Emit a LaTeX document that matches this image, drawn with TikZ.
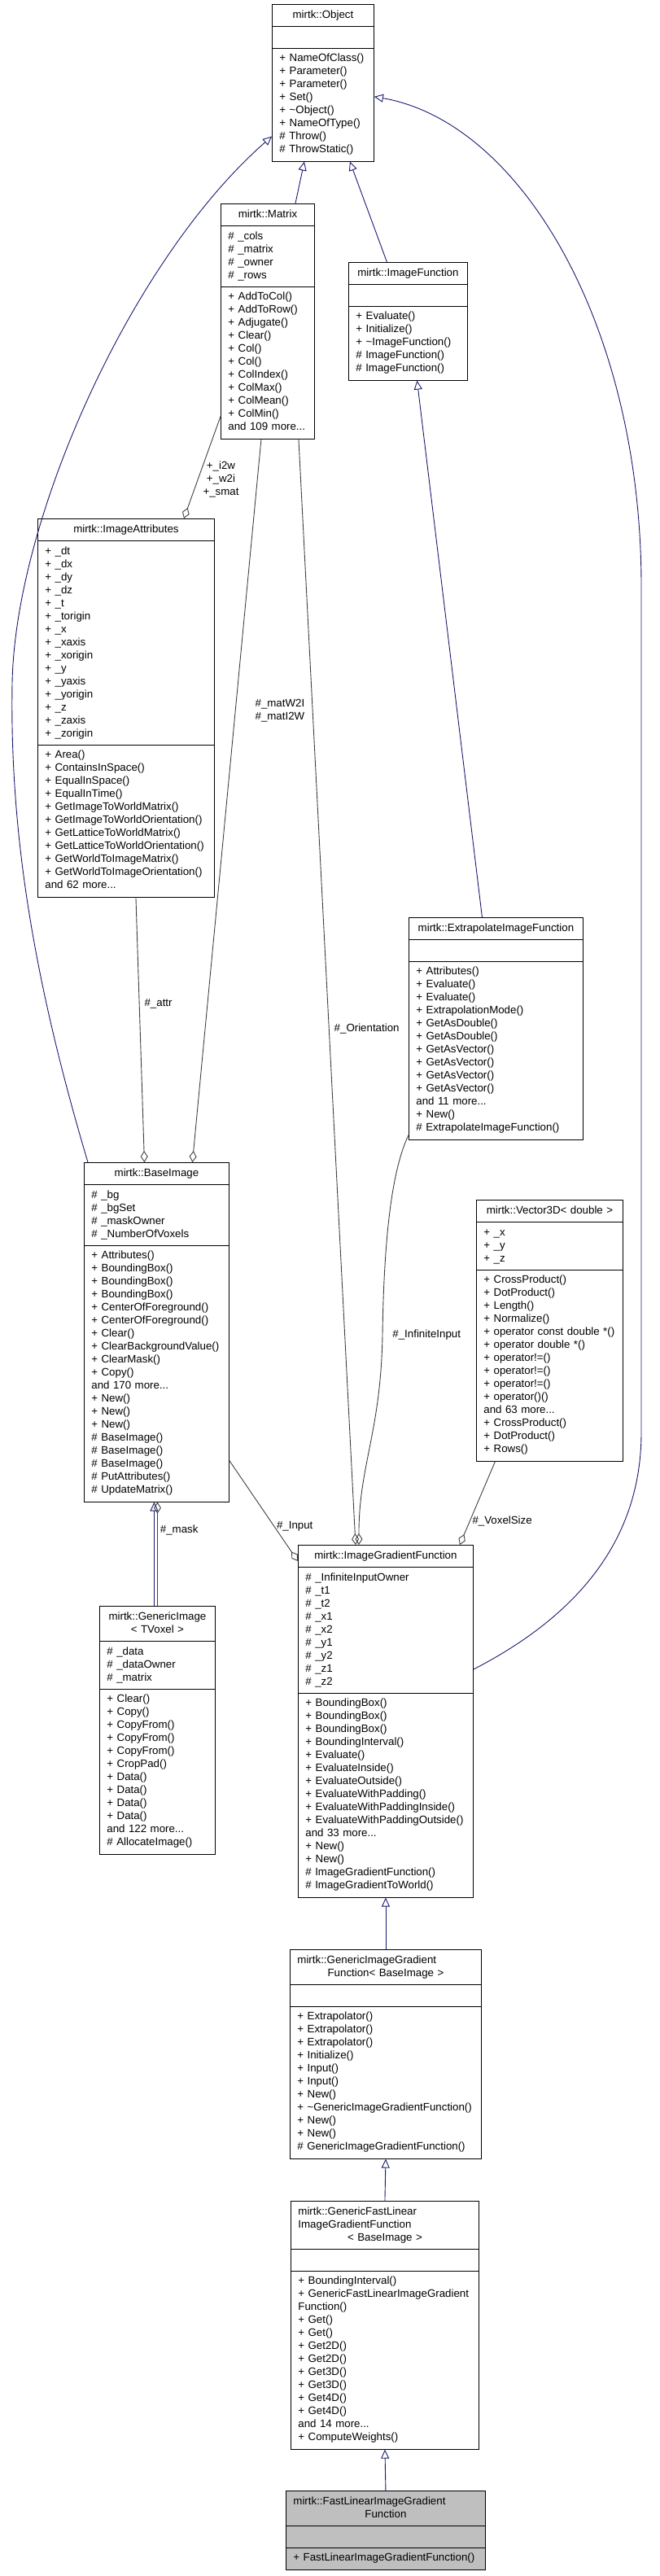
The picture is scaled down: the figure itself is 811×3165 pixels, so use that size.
\documentclass[tikz,border=0pt]{standalone}
\usepackage{fontspec}
\setmainfont{Liberation Sans}
\usetikzlibrary{shapes.multipart, arrows.meta}

\definecolor{inhblue}{HTML}{191970}
\definecolor{membgrey}{HTML}{404040}
\definecolor{focusgrey}{HTML}{BFBFBF}

% centred line in a class title
\newcommand{\classtitle}[1]{\makebox[\linewidth]{#1}}

\begin{document}
\begin{tikzpicture}[
    x=1pt, y=-1pt,
    umlclass/.style={rectangle split, rectangle split parts=3, draw, line width=0.9pt, fill=white,
      anchor=north west, inner xsep=9pt, inner ysep=5pt, text width=#1,
      font=\fontsize{13.3}{16}\selectfont, align=left,
      execute at begin node={\rightskip=0pt plus 1fil minus 40pt\strut},
      execute at end node=\strut},
    inherits/.style={-{Triangle[open, length=11pt, width=10pt]}, draw=inhblue, line width=0.9pt},
    uses/.style={-{Diamond[open, length=14pt, width=9pt]}, draw=membgrey, line width=0.9pt},
    rolename/.style={font=\fontsize{13.3}{16}\selectfont, inner sep=0pt, align=center}
  ]
    \useasboundingbox (0,0) rectangle (811,3165);

    % Top: Object, Matrix, ImageFunction
    \node[umlclass=107] (obj) at (334,5) {\classtitle{mirtk::Object}
      \nodepart{two}
      \nodepart{three}+ NameOfClass()\\
      + Parameter()\\
      + Parameter()\\
      + Set()\\
      + \textasciitilde Object()\\
      + NameOfType()\\
      \# Throw()\\
      \# ThrowStatic()
    };

    \node[umlclass=97] (matrix) at (271,250) {\classtitle{mirtk::Matrix}
      \nodepart{two}\# \_cols\\
      \# \_matrix\\
      \# \_owner\\
      \# \_rows
      \nodepart{three}+ AddToCol()\\
      + AddToRow()\\
      + Adjugate()\\
      + Clear()\\
      + Col()\\
      + Col()\\
      + ColIndex()\\
      + ColMax()\\
      + ColMean()\\
      + ColMin()\\
      and 109 more...
    };

    \node[umlclass=128] (imgfn) at (428,322) {\classtitle{mirtk::ImageFunction}
      \nodepart{two}
      \nodepart{three}+ Evaluate()\\
      + Initialize()\\
      + \textasciitilde ImageFunction()\\
      \# ImageFunction()\\
      \# ImageFunction()
    };

    % Middle: ImageAttributes, ExtrapolateImageFunction
    \node[umlclass=199] (attrs) at (46,637) {\classtitle{mirtk::ImageAttributes}
      \nodepart{two}+ \_dt\\
      + \_dx\\
      + \_dy\\
      + \_dz\\
      + \_t\\
      + \_torigin\\
      + \_x\\
      + \_xaxis\\
      + \_xorigin\\
      + \_y\\
      + \_yaxis\\
      + \_yorigin\\
      + \_z\\
      + \_zaxis\\
      + \_zorigin
      \nodepart{three}+ Area()\\
      + ContainsInSpace()\\
      + EqualInSpace()\\
      + EqualInTime()\\
      + GetImageToWorldMatrix()\\
      + GetImageToWorldOrientation()\\
      + GetLatticeToWorldMatrix()\\
      + GetLatticeToWorldOrientation()\\
      + GetWorldToImageMatrix()\\
      + GetWorldToImageOrientation()\\
      and 62 more...
    };

    \node[umlclass=196] (extrap) at (502,1127) {\classtitle{mirtk::ExtrapolateImageFunction}
      \nodepart{two}
      \nodepart{three}+ Attributes()\\
      + Evaluate()\\
      + Evaluate()\\
      + ExtrapolationMode()\\
      + GetAsDouble()\\
      + GetAsDouble()\\
      + GetAsVector()\\
      + GetAsVector()\\
      + GetAsVector()\\
      + GetAsVector()\\
      and 11 more...\\
      + New()\\
      \# ExtrapolateImageFunction()
    };

    % BaseImage, Vector3D, GenericImage
    \node[umlclass=160] (baseimg) at (103,1428) {\classtitle{mirtk::BaseImage}
      \nodepart{two}\# \_bg\\
      \# \_bgSet\\
      \# \_maskOwner\\
      \# \_NumberOfVoxels
      \nodepart{three}+ Attributes()\\
      + BoundingBox()\\
      + BoundingBox()\\
      + BoundingBox()\\
      + CenterOfForeground()\\
      + CenterOfForeground()\\
      + Clear()\\
      + ClearBackgroundValue()\\
      + ClearMask()\\
      + Copy()\\
      and 170 more...\\
      + New()\\
      + New()\\
      + New()\\
      \# BaseImage()\\
      \# BaseImage()\\
      \# BaseImage()\\
      \# PutAttributes()\\
      \# UpdateMatrix()
    };

    \node[umlclass=162] (vec3d) at (585,1474) {\classtitle{mirtk::Vector3D< double >}
      \nodepart{two}+ \_x\\
      + \_y\\
      + \_z
      \nodepart{three}+ CrossProduct()\\
      + DotProduct()\\
      + Length()\\
      + Normalize()\\
      + operator const double *()\\
      + operator double *()\\
      + operator!=()\\
      + operator!=()\\
      + operator!=()\\
      + operator()()\\
      and 63 more...\\
      + CrossProduct()\\
      + DotProduct()\\
      + Rows()
    };

    \node[umlclass=124] (genimg) at (122,1973) {\classtitle{mirtk::GenericImage}\\
      \classtitle{< TVoxel >}
      \nodepart{two}\# \_data\\
      \# \_dataOwner\\
      \# \_matrix
      \nodepart{three}+ Clear()\\
      + Copy()\\
      + CopyFrom()\\
      + CopyFrom()\\
      + CopyFrom()\\
      + CropPad()\\
      + Data()\\
      + Data()\\
      + Data()\\
      + Data()\\
      and 122 more...\\
      \# AllocateImage()
    };

    % Gradient function chain
    \node[umlclass=197] (imggrad) at (366,1898) {\classtitle{mirtk::ImageGradientFunction}
      \nodepart{two}\# \_InfiniteInputOwner\\
      \# \_t1\\
      \# \_t2\\
      \# \_x1\\
      \# \_x2\\
      \# \_y1\\
      \# \_y2\\
      \# \_z1\\
      \# \_z2
      \nodepart{three}+ BoundingBox()\\
      + BoundingBox()\\
      + BoundingBox()\\
      + BoundingInterval()\\
      + Evaluate()\\
      + EvaluateInside()\\
      + EvaluateOutside()\\
      + EvaluateWithPadding()\\
      + EvaluateWithPaddingInside()\\
      + EvaluateWithPaddingOutside()\\
      and 33 more...\\
      + New()\\
      + New()\\
      \# ImageGradientFunction()\\
      \# ImageGradientToWorld()
    };

    \node[umlclass=217] (gengrad) at (356,2395) {mirtk::GenericImageGradient\\
      \classtitle{Function< BaseImage >}
      \nodepart{two}
      \nodepart{three}+ Extrapolator()\\
      + Extrapolator()\\
      + Extrapolator()\\
      + Initialize()\\
      + Input()\\
      + Input()\\
      + New()\\
      + \textasciitilde GenericImageGradientFunction()\\
      + New()\\
      + New()\\
      \# GenericImageGradientFunction()
    };

    \node[umlclass=213] (genfast) at (357,2704) {mirtk::GenericFastLinear\\
      ImageGradientFunction\\
      \classtitle{< BaseImage >}
      \nodepart{two}
      \nodepart{three}+ BoundingInterval()\\
      + GenericFastLinearImageGradient\\
      Function()\\
      + Get()\\
      + Get()\\
      + Get2D()\\
      + Get2D()\\
      + Get3D()\\
      + Get3D()\\
      + Get4D()\\
      + Get4D()\\
      and 14 more...\\
      + ComputeWeights()
    };

    \node[umlclass=227, fill=focusgrey] (fastlin) at (351,3060) {mirtk::FastLinearImageGradient\\
      \classtitle{Function}
      \nodepart{two}
      \nodepart{three}+ FastLinearImageGradientFunction()
    };

    % Inheritance
    \draw[inherits] ([xshift=34pt]matrix.north) -- ([xshift=-23pt]obj.south);
    \draw[inherits] ([xshift=-26pt]imgfn.north) -- ([xshift=33pt]obj.south);
    \draw[inherits] ([xshift=5pt]baseimg.north west) .. controls (40,1200) and (12,1020) .. (15,840)
      .. controls (18,640) and (160,320) .. ([yshift=31pt]obj.south west);
    \draw[inherits] ([yshift=-153pt]imggrad.north east) .. controls (700,1990) and (788,1900) .. (788,1760)
      -- (788,720) .. controls (788,400) and (640,150) .. ([yshift=-17pt]obj.east);
    \draw[inherits] ([xshift=-17pt]extrap.north) -- ([xshift=11pt]imgfn.south);
    \draw[inherits] ([xshift=-4pt]genimg.north) -- ([xshift=-3pt]baseimg.south);
    \draw[inherits] (gengrad.north) -- (imggrad.south);
    \draw[inherits] (genfast.north) -- (gengrad.south);
    \draw[inherits] (fastlin.north) -- (genfast.south);

    % Members
    \draw[uses] ([yshift=28pt]matrix.south west) -- node[rolename, pos=0.62, right=6pt] {+\_i2w\\+\_w2i\\+\_smat} ([xshift=71pt]attrs.north);
    \draw[uses] ([xshift=-8pt]matrix.south) -- node[rolename, pos=0.376, right=24pt] {\#\_matW2I\\\#\_matI2W} ([xshift=44pt]baseimg.north);
    \draw[uses] ([xshift=12pt]attrs.south) -- node[rolename, pos=0.4, right=6pt] {\#\_attr} ([xshift=-15pt]baseimg.north);
    \draw[uses] (genimg.north) -- node[rolename, pos=0.73, right=3pt] {\#\_mask} ([xshift=1pt]baseimg.south);
    \draw[uses] ([xshift=38pt]matrix.south) -- node[rolename, pos=0.533, right=6pt] {\#\_Orientation} ([xshift=-37pt]imggrad.north);
    \draw[uses] ([yshift=6pt]extrap.south west) .. controls (485,1430) and (472,1500) .. node[rolename, at end, right=12pt] {\#\_InfiniteInput} (470,1640)
      .. controls (468,1760) and (441,1800) .. ([xshift=-33pt]imggrad.north);
    \draw[uses] ([xshift=-67pt]vec3d.south) -- node[rolename, pos=0.72, right=3pt] {\#\_VoxelSize} ([xshift=-17pt]imggrad.north east);
    \draw[uses] ([yshift=51pt]baseimg.south east) -- node[rolename, pos=0.65, right=3pt] {\#\_Input} ([yshift=-20pt]imggrad.north west);
  \end{tikzpicture}
\end{document}
